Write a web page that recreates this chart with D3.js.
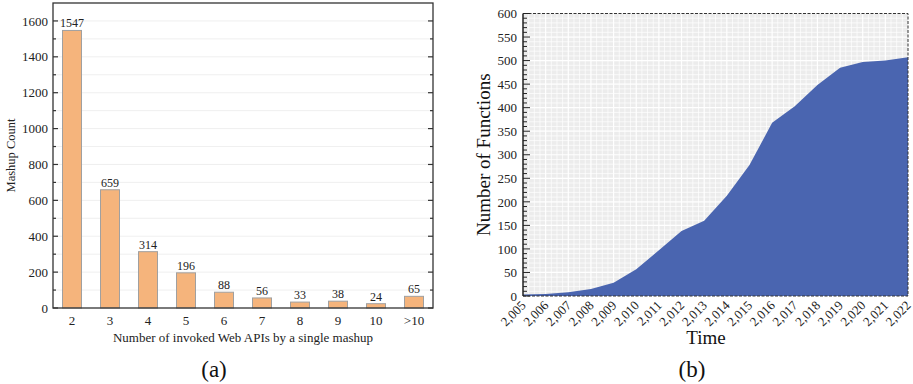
<!DOCTYPE html>
<html><head><meta charset="utf-8">
<script src="https://cdn.jsdelivr.net/npm/d3@7"></script>
<style>body{margin:0;background:#fff}svg{display:block}text{font-family:"Liberation Serif","Times New Roman",serif}</style>
</head><body>
<svg id="c" width="913" height="384"></svg>
<script>
// ---- data (a)
const categories = ["2","3","4","5","6","7","8","9","10",">10"];
const mashupCounts = [1547,659,314,196,88,56,33,38,24,65];
const yTicksA = [0,200,400,600,800,1000,1200,1400,1600];
// ---- data (b)
const years = [2005,2006,2007,2008,2009,2010,2011,2012,2013,2014,2015,2016,2017,2018,2019,2020,2021,2022];
const functionCounts = [3,4,8,15,28,57,97,138,160,213,278,368,403,448,485,497,500,507];
const yTicksB = [0,50,100,150,200,250,300,350,400,450,500,550,600];

const svg = d3.select("#c");
const fmt = d3.format(",");

// ================= Chart (a)
const A = {l:53, r:433, t:3, b:308};
const xA = d3.scaleBand().domain(categories).range([A.l, A.r]).paddingInner(0.5).paddingOuter(0.25);
const yA = d3.scaleLinear().domain([0,1700]).range([A.b, A.t]);
const gA = svg.append("g");
gA.append("g").selectAll("line").data(d3.range(100,1700,100)).join("line")
  .attr("x1",A.l).attr("x2",A.r).attr("y1",d=>yA(d)).attr("y2",d=>yA(d))
  .attr("stroke","#ebebeb").attr("stroke-width",0.8);
gA.append("g").selectAll("rect").data(mashupCounts).join("rect")
  .attr("x",(d,i)=>xA(categories[i])).attr("width",xA.bandwidth())
  .attr("y",d=>yA(d)).attr("height",d=>yA(0)-yA(d))
  .attr("fill","#f5b47c").attr("stroke","#a0a0a0").attr("stroke-width",1);
gA.append("g").selectAll("text").data(mashupCounts).join("text")
  .attr("x",(d,i)=>xA(categories[i])+xA.bandwidth()/2).attr("y",d=>yA(d)-3)
  .attr("text-anchor","middle").attr("font-size",12).attr("fill","#222").text(d=>d);
gA.append("rect").attr("x",A.l).attr("y",A.t).attr("width",A.r-A.l).attr("height",A.b-A.t)
  .attr("fill","none").attr("stroke","#333").attr("stroke-width",1.3);
const axL = d3.axisLeft(yA).tickValues(yTicksA).tickFormat(d3.format("d")).tickSize(0).tickPadding(5);
gA.append("g").attr("transform",`translate(${A.l},0)`).call(axL)
  .call(g=>g.select(".domain").remove())
  .call(g=>g.selectAll("text").attr("font-size",13).attr("fill","#222"));
[[A.l,1],[A.r,-1]].forEach(([x,s])=>{
  gA.append("g").selectAll("line").data(d3.range(0,1700,100)).join("line")
    .attr("x1",x).attr("x2",d=>x+s*(d%200===0?5:3)).attr("y1",d=>yA(d)).attr("y2",d=>yA(d))
    .attr("stroke","#333").attr("stroke-width",1.2);
});
const axB = d3.axisBottom(xA).tickSize(0).tickPadding(8);
gA.append("g").attr("transform",`translate(0,${A.b})`).call(axB)
  .call(g=>g.select(".domain").remove())
  .call(g=>g.selectAll("text").attr("font-size",13).attr("fill","#222"));
gA.append("text").attr("x",(A.l+A.r)/2).attr("y",342).attr("text-anchor","middle")
  .attr("font-size",13).attr("fill","#222").text("Number of invoked Web APIs by a single mashup");
gA.append("text").attr("transform",`translate(15,${(A.t+A.b)/2}) rotate(-90)`).attr("text-anchor","middle")
  .attr("font-size",12.5).attr("fill","#222").text("Mashup Count");
gA.append("text").attr("x",214).attr("y",377).attr("text-anchor","middle")
  .attr("font-size",23).attr("fill","#111").text("(a)");

// ================= Chart (b)
const B = {l:523, r:908, t:13.5, b:296};
const xB = d3.scaleLinear().domain([2005,2022]).range([B.l, B.r]);
const yB = d3.scaleLinear().domain([0,600]).range([B.b, B.t]);
const gB = svg.append("g");
gB.append("rect").attr("x",B.l).attr("y",B.t).attr("width",B.r-B.l).attr("height",B.b-B.t).attr("fill","#ececec");
gB.append("g").selectAll("line").data(d3.range(10,600,10)).join("line")
  .attr("x1",B.l).attr("x2",B.r).attr("y1",d=>yB(d)).attr("y2",d=>yB(d))
  .attr("stroke","#fff").attr("stroke-width",d=>d%50===0?1.2:0.7);
gB.append("g").selectAll("line").data(d3.range(2005.25,2022,0.25)).join("line")
  .attr("y1",B.t).attr("y2",B.b).attr("x1",d=>xB(d)).attr("x2",d=>xB(d))
  .attr("stroke","#fff").attr("stroke-width",d=>Number.isInteger(d)?1.2:0.7);
const area = d3.area().x((d,i)=>xB(years[i])).y0(yB(0)).y1(d=>yB(d));
gB.append("path").datum(functionCounts).attr("d",area).attr("fill","#4a65b0");
gB.append("path").attr("d",`M${B.l},${B.b}H${B.r}V${B.t}H${B.l}`).attr("fill","none")
  .attr("stroke","#333").attr("stroke-width",1).attr("stroke-dasharray","3,1.5");
gB.append("line").attr("x1",B.l).attr("x2",B.l).attr("y1",B.t).attr("y2",B.b).attr("stroke","#222").attr("stroke-width",1.5);
gB.append("g").selectAll("line").data(d3.range(0,601,10)).join("line")
  .attr("x1",B.l).attr("x2",d=>B.l+(d%50===0?7:4)).attr("y1",d=>yB(d)).attr("y2",d=>yB(d))
  .attr("stroke","#222").attr("stroke-width",1);
gB.append("g").attr("transform",`translate(${B.l},0)`)
  .call(d3.axisLeft(yB).tickValues(yTicksB).tickSize(0).tickPadding(6))
  .call(g=>g.select(".domain").remove())
  .call(g=>g.selectAll("text").attr("font-size",13).attr("fill","#222"));
gB.append("g").attr("transform",`translate(0,${B.b})`)
  .call(d3.axisBottom(xB).tickValues(years).tickSize(0).tickFormat(d=>fmt(d)))
  .call(g=>g.select(".domain").remove())
  .call(g=>g.selectAll("text").attr("font-size",13).attr("fill","#222")
    .attr("text-anchor","end").attr("dy",0).attr("x",-5).attr("y",9.5).attr("transform","rotate(-45)"));
gB.append("text").attr("x",706).attr("y",344).attr("text-anchor","middle")
  .attr("font-size",19).attr("fill","#111").text("Time");
gB.append("text").attr("transform",`translate(490,${(B.t+B.b)/2}) rotate(-90)`).attr("text-anchor","middle")
  .attr("font-size",19).attr("fill","#111").text("Number of Functions");
gB.append("text").attr("x",692).attr("y",377).attr("text-anchor","middle")
  .attr("font-size",23).attr("fill","#111").text("(b)");
</script>
</body></html>
